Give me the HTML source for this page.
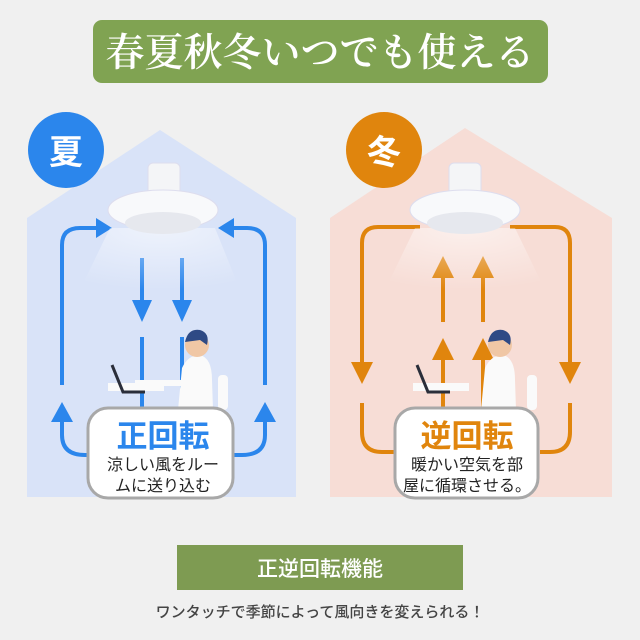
<!DOCTYPE html>
<html><head><meta charset="utf-8"><style>
html,body{margin:0;padding:0;background:#f0f0f0;}
svg{display:block}
</style></head><body>
<svg width="640" height="640" viewBox="0 0 640 640" xmlns="http://www.w3.org/2000/svg">
<defs>
<radialGradient id="wind" cx="0.5" cy="0" r="1"><stop offset="0" stop-color="#fff" stop-opacity="0.8"/><stop offset="1" stop-color="#fff" stop-opacity="0"/></radialGradient>
</defs>
<rect width="640" height="640" fill="#f0f0f0"/>
<!-- title -->
<rect x="93" y="20" width="455" height="63" rx="9" fill="#80a352"/>
<text x="320" y="66" text-anchor="middle" font-family="'Noto Serif CJK SC',serif" font-weight="600" font-size="39" fill="#fff">春夏秋冬いつでも使える</text>
<!-- houses -->
<polygon points="27,218 160,130 296,218 296,497 27,497" fill="#d9e3f8"/>
<polygon points="330,218 465,128 612,218 612,497 330,497" fill="#f7ddd6"/>
<!-- badges -->
<circle cx="66" cy="150" r="38" fill="#2b86ec"/>
<text x="66" y="164" text-anchor="middle" font-family="'Noto Sans CJK JP',sans-serif" font-weight="bold" font-size="34" fill="#fff">夏</text>
<circle cx="384" cy="150" r="38" fill="#e0850d"/>
<text x="384" y="164" text-anchor="middle" font-family="'Noto Sans CJK JP',sans-serif" font-weight="bold" font-size="34" fill="#fff">冬</text>

<!-- blue arrows -->
<g fill="none" stroke="#2b86ec" stroke-width="4">
<path d="M62,385 V245 Q62,228 80,228 H98"/>
<path d="M265,385 V245 Q265,228 247,228 H232"/>
<path d="M142,258 V302"/><path d="M182,258 V302"/>
<path d="M142,337 V410"/><path d="M182,337 V410"/>
<path d="M62,418 V435 Q62,455 85,455 H95"/>
<path d="M265,418 V435 Q265,455 242,455 H232"/>
</g>
<g fill="#2b86ec">
<polygon points="96,218 112,228 96,238"/>
<polygon points="234,218 218,228 234,238"/>
<polygon points="132,300 152,300 142,322"/>
<polygon points="172,300 192,300 182,322"/>
<polygon points="51,422 73,422 62,402"/>
<polygon points="254,422 276,422 265,402"/>
</g>
<!-- orange arrows -->
<g fill="none" stroke="#e0850d" stroke-width="4">
<path d="M420,227 H378 Q362,227 362,243 V365"/>
<path d="M510,227 H555 Q570,227 570,243 V365"/>
<path d="M443,275 V322"/><path d="M483,275 V322"/>
<path d="M443,357 V410"/><path d="M483,357 V410"/>
<path d="M362,403 V432 Q362,452 382,452 H395"/>
<path d="M570,403 V432 Q570,452 550,452 H540"/>
</g>
<g fill="#e0850d">
<polygon points="351,362 373,362 362,384"/>
<polygon points="559,362 581,362 570,384"/>
<polygon points="432,278 454,278 443,256"/>
<polygon points="472,278 494,278 483,256"/>
<polygon points="432,360 454,360 443,338"/>
<polygon points="472,360 494,360 483,338"/>
</g>

<!-- fans -->
<g>
<path d="M110,228 L80,290 L240,290 L215,228 Z" fill="url(#wind)" opacity="0.7"/>
<rect x="148" y="163" width="32" height="32" rx="5" fill="#f4f5f7" stroke="#dde" />
<ellipse cx="163" cy="210" rx="55" ry="20" fill="#f8f9fb" stroke="#dde"/>
<ellipse cx="163" cy="223" rx="38" ry="11" fill="#e6e8ee"/>
<path d="M415,228 L385,290 L545,290 L515,228 Z" fill="url(#wind)" opacity="0.7"/>
<rect x="449" y="163" width="32" height="32" rx="5" fill="#f4f5f7" stroke="#dde"/>
<ellipse cx="465" cy="210" rx="55" ry="20" fill="#f8f9fb" stroke="#dde"/>
<ellipse cx="465" cy="223" rx="38" ry="11" fill="#e6e8ee"/>
</g>

<!-- persons -->
<g>
<rect x="108" y="383" width="56" height="8" fill="#fafafa"/>
<path d="M112,365 L123,392 L145,392" fill="none" stroke="#2a2e3a" stroke-width="3"/>
<path d="M182,368 Q188,355 200,355 Q212,358 212,380 L213,410 L178,410 Z" fill="#fafafa"/>
<rect x="135" y="380" width="50" height="6" fill="#fafafa"/>
<circle cx="197" cy="345" r="12" fill="#f0c7a5"/>
<path d="M185,342 Q188,328 200,330 Q210,333 207,345 L200,340 Z" fill="#2e4a85"/>
<rect x="218" y="375" width="10" height="35" rx="4" fill="#fafafa"/>
<rect x="413" y="383" width="56" height="8" fill="#fafafa"/>
<path d="M417,365 L428,392 L450,392" fill="none" stroke="#2a2e3a" stroke-width="3"/>
<path d="M485,368 Q491,355 503,355 Q515,358 515,380 L516,410 L481,410 Z" fill="#fafafa"/>
<circle cx="500" cy="345" r="12" fill="#f0c7a5"/>
<path d="M488,342 Q491,328 503,330 Q513,333 510,345 L503,340 Z" fill="#2e4a85"/>
<rect x="527" y="375" width="10" height="35" rx="4" fill="#fafafa"/>
</g>

<!-- clouds -->
<rect x="88" y="408" width="145" height="90" rx="20" fill="#fff" stroke="#a8a8a8" stroke-width="3"/>
<rect x="395" y="408" width="143" height="90" rx="20" fill="#fff" stroke="#a8a8a8" stroke-width="3"/>
<g font-family="'Noto Sans CJK JP',sans-serif" text-anchor="middle">
<text x="163" y="447" font-size="31" font-weight="bold" fill="#2b86ec">正回転</text>
<text x="163" y="470" font-size="16" fill="#222">涼しい風をルー</text>
<text x="163" y="491" font-size="16" fill="#222">ムに送り込む</text>
<text x="467" y="447" font-size="31" font-weight="bold" fill="#e0850d">逆回転</text>
<text x="467" y="470" font-size="16" fill="#222">暖かい空気を部</text>
<text x="467" y="491" font-size="16" fill="#222">屋に循環させる。</text>
</g>

<!-- bottom -->
<rect x="177" y="545" width="286" height="45" fill="#7e9b52"/>
<text x="320" y="576" text-anchor="middle" font-family="'Noto Sans CJK JP',sans-serif" font-weight="500" font-size="21" fill="#fff">正逆回転機能</text>
<text x="320" y="617" text-anchor="middle" font-family="'Noto Sans CJK JP',sans-serif" font-weight="500" font-size="15" fill="#444">ワンタッチで季節によって風向きを変えられる！</text>
</svg>
</body></html>
